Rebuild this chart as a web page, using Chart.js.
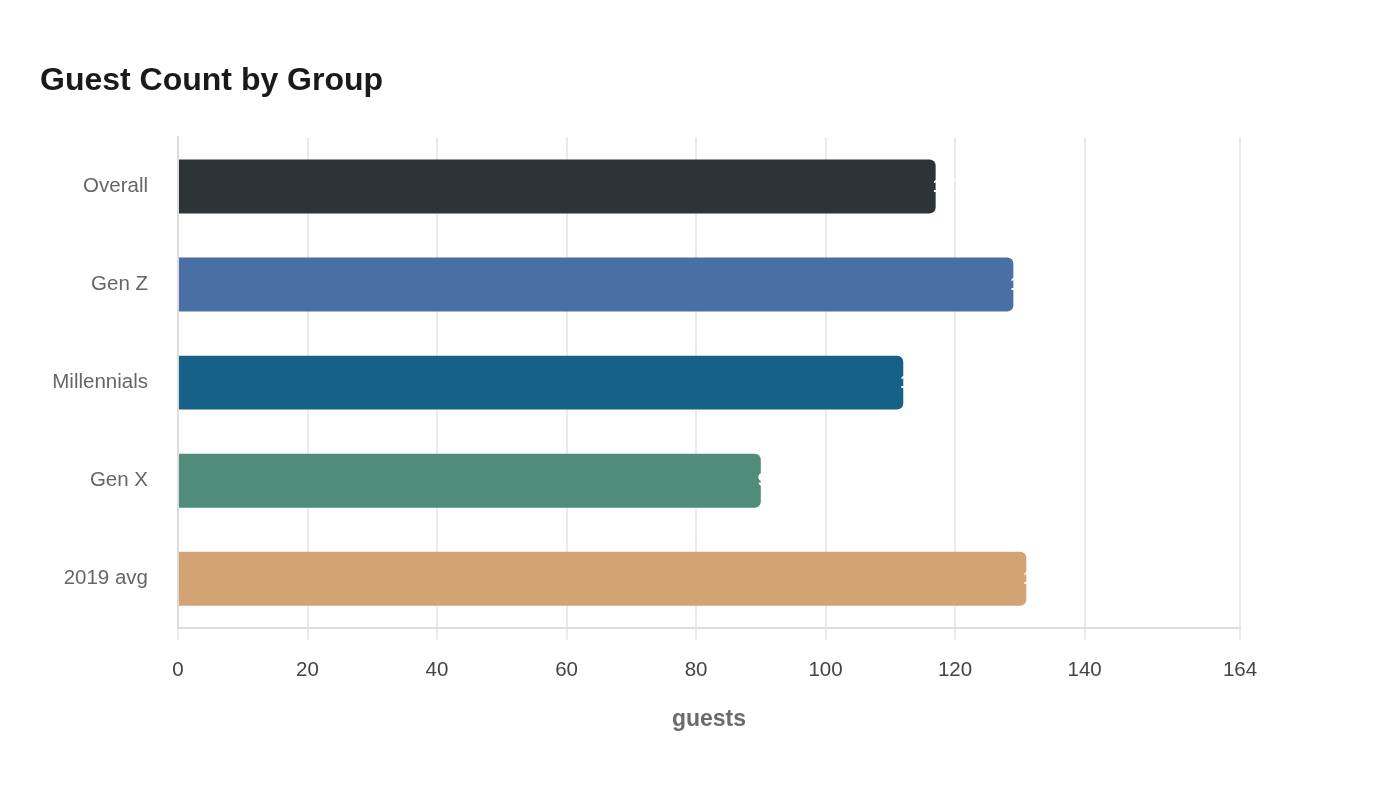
<!DOCTYPE html>
<html lang="en">
<head>
  <meta charset="UTF-8" />
  <title>Guest Count by Group</title>
  <script src="https://cdn.jsdelivr.net/npm/chart.js"></script>
  <style>
    html, body {
      margin: 0;
      padding: 0;
      background: #ffffff;
      width: 1400px;
      height: 800px;
      overflow: hidden;
    }
    .chart-container {
      position: relative;
      width: 1400px;
      height: 800px;
    }
  </style>
</head>
<body>
  <div class="chart-container">
    <canvas id="guestChart"></canvas>
  </div>

  <script>
    const groups = ['Overall', 'Gen Z', 'Millennials', 'Gen X', '2019 avg'];
    const guests = [117, 129, 112, 90, 131];
    const barColors = ['#2d3436', '#4a6fa5', '#176087', '#4f8c7a', '#d4a373'];

    const fontFamily = "'Liberation Sans', Arial, sans-serif";

    // white value text at the end of each bar
    const valueLabels = {
      id: 'valueLabels',
      afterDatasetsDraw(chart) {
        const ctx = chart.ctx;
        const meta = chart.getDatasetMeta(0);
        ctx.save();
        ctx.font = 'bold 19px ' + fontFamily;
        ctx.fillStyle = '#ffffff';
        ctx.textAlign = 'left';
        ctx.textBaseline = 'middle';
        meta.data.forEach((bar, i) => {
          ctx.fillText(String(guests[i]), bar.x - 3, bar.y);
        });
        ctx.restore();
      }
    };

    const ctx = document.getElementById('guestChart').getContext('2d');
    new Chart(ctx, {
      type: 'bar',
      data: {
        labels: groups,
        datasets: [{
          label: 'guests',
          data: guests,
          backgroundColor: barColors,
          borderRadius: 6,
          borderSkipped: 'start',
          barPercentage: 0.55,
          categoryPercentage: 1.0
        }]
      },
      options: {
        indexAxis: 'y',
        responsive: true,
        maintainAspectRatio: false,
        animation: false,
        layout: {
          padding: { top: 62, left: 40, right: 160, bottom: 67 }
        },
        plugins: {
          legend: { display: false },
          tooltip: { enabled: false },
          title: {
            display: true,
            text: 'Guest Count by Group',
            align: 'start',
            color: '#1a1a1a',
            font: { family: fontFamily, size: 32, weight: 'bold' },
            padding: { top: 0, bottom: 37 }
          }
        },
        scales: {
          x: {
            min: 0,
            max: 164,
            ticks: {
              stepSize: 20,
              color: '#444444',
              font: { family: fontFamily, size: 20.5 },
              padding: 18
            },
            grid: {
              color: '#ebebeb',
              lineWidth: 2,
              drawTicks: true,
              tickLength: 12
            },
            border: { color: '#dddddd', width: 2 },
            title: {
              display: true,
              text: 'guests',
              color: '#6b6b6b',
              font: { family: fontFamily, size: 23, weight: 'bold' },
              padding: { top: 5, bottom: 0 }
            }
          },
          y: {
            afterFit(scale) {
              scale.width = 138;
            },
            ticks: {
              color: '#666666',
              font: { family: fontFamily, size: 20.5 },
              padding: 22
            },
            grid: { display: false },
            border: { color: '#dddddd', width: 2 }
          }
        }
      },
      plugins: [valueLabels]
    });
  </script>
</body>
</html>
